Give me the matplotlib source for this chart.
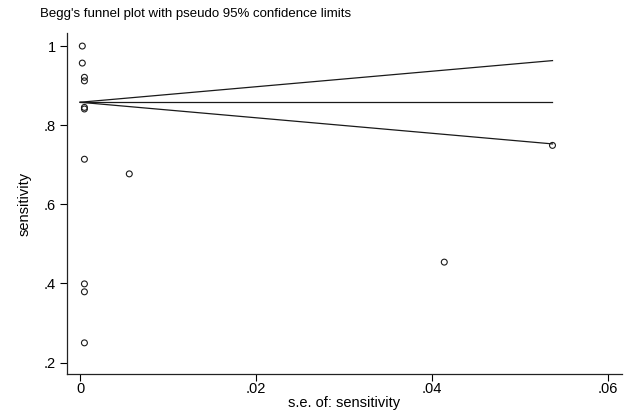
import matplotlib
matplotlib.use("Agg")
import matplotlib.pyplot as plt
from matplotlib.ticker import FuncFormatter
import numpy as np

# Study data: standard error and sensitivity
se = [0.00026, 0.00026, 0.0005, 0.0005, 0.0005, 0.0005, 0.0005, 0.0005, 0.0005, 0.0005, 0.0056, 0.0414, 0.0537]
sens = [1.0, 0.957, 0.921, 0.912, 0.845, 0.841, 0.714, 0.399, 0.379, 0.250, 0.677, 0.454, 0.749]

pooled = 0.858
se_range = [0.0, max(se)]

xticks = [0, 0.02, 0.04, 0.06]
yticks = [0.2, 0.4, 0.6, 0.8, 1.0]

plt.rcParams['font.family'] = ['Liberation Sans', 'DejaVu Sans']

fig = plt.figure(figsize=(6.28, 4.12), dpi=100)
ax = fig.add_axes([67/628, 1 - 374/412, (622-67)/628, (374-33)/412])

se_line = np.array(se_range)
ax.plot(se_line, [pooled, pooled], color='#1a1a1a', lw=0.9)
ax.plot(se_line, pooled + 1.96 * se_line, color='#1a1a1a', lw=0.9)
ax.plot(se_line, pooled - 1.96 * se_line, color='#1a1a1a', lw=0.9)

ax.scatter(se, sens, s=18, facecolors='none', edgecolors='#1a1a1a', linewidths=0.8, zorder=3)

ax.set_xlim(-0.00148, 0.0616)
ax.set_ylim(0.1713, 1.033)

def fmt(v, pos):
    s = ('%g' % round(v, 4))
    if s.startswith('0.'):
        s = s[1:]
    return s

ax.set_xticks(xticks)
ax.set_yticks(yticks)
ax.xaxis.set_major_formatter(FuncFormatter(fmt))
ax.yaxis.set_major_formatter(FuncFormatter(fmt))
ax.tick_params(direction='out', length=5, width=0.8, labelsize=10.5, colors='black')
ax.tick_params(axis='x', pad=1)
ax.tick_params(axis='y', pad=3)
for s in ['top', 'right']:
    ax.spines[s].set_visible(False)
for s in ['left', 'bottom']:
    ax.spines[s].set_linewidth(0.9)
    ax.spines[s].set_color('#222222')

ax.set_xlabel('s.e. of: sensitivity', fontsize=10.5, labelpad=0)
ax.set_ylabel('sensitivity', fontsize=10.5, labelpad=9)

fig.text(40/628, 1 - 14/412, "Begg's funnel plot with pseudo 95% confidence limits",
         fontsize=9.5, va='center', ha='left')

fig.savefig('out.png', dpi=100)
